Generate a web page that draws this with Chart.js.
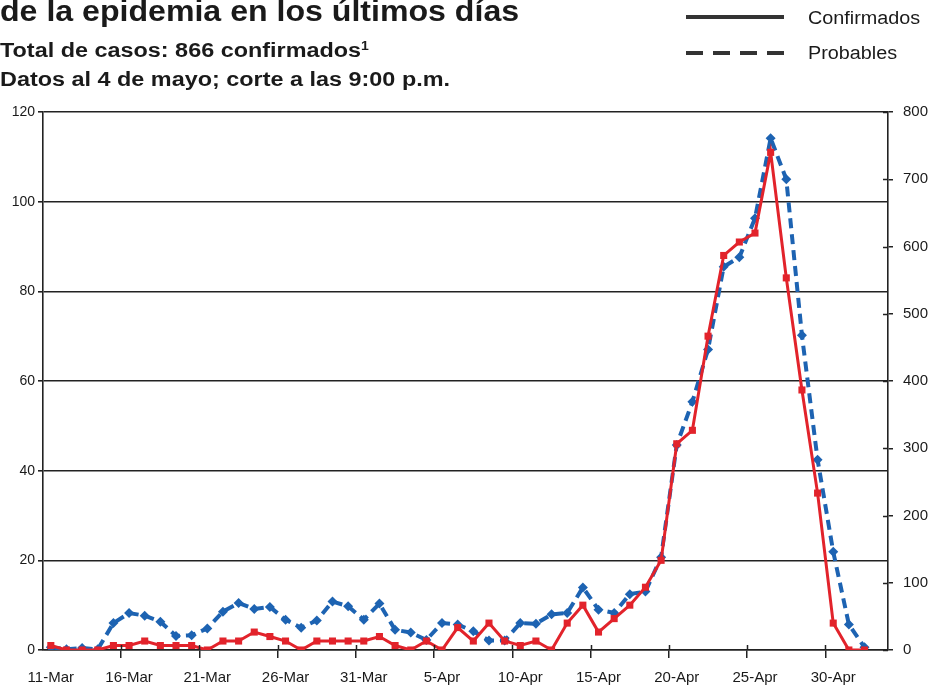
<!DOCTYPE html>
<html>
<head>
<meta charset="utf-8">
<script src="https://cdn.jsdelivr.net/npm/chart.js@4"></script>
<style>
  html, body { margin: 0; padding: 0; background: #fff; }
  #wrap { position: relative; width: 936px; height: 687px; overflow: hidden; font-family: "Liberation Sans", Arial, sans-serif; color: #1a1a1a; }
  #wrap canvas { position: absolute; left: 0; top: 0; }
  .txt { position: absolute; white-space: nowrap; transform-origin: 0 0; line-height: 1; }
  .title { left: 0; top: -4px; font-size: 30px; font-weight: bold; transform: scaleX(1.07); }
  .sub { left: 0; font-size: 20px; font-weight: bold; transform: scaleX(1.17); }
  .leg { left: 808px; font-size: 18px; transform: scaleX(1.1); }
  .solid { position: absolute; left: 686px; top: 15px; width: 98px; height: 4px; background: #333; }
  .dash { position: absolute; left: 686px; top: 51px; width: 98px; height: 4px;
          background: repeating-linear-gradient(90deg, #333 0 17px, transparent 17px 27px); }
</style>
</head>
<body>
<div id="wrap">
  <canvas id="productMainChart" width="936" height="687"></canvas>
  <div class="txt title">de la epidemia en los últimos días</div>
  <div class="txt sub" style="top:40px">Total de casos: 866 confirmados<sup style="font-size:12px;vertical-align:7px">1</sup></div>
  <div class="txt sub" style="top:69px">Datos al 4 de mayo; corte a las 9:00 p.m.</div>
  <div class="solid"></div>
  <div class="txt leg" style="top:9px">Confirmados</div>
  <div class="dash"></div>
  <div class="txt leg" style="top:44px">Probables</div>
</div>
<script>
// categories (one per day)
const labels = [
  '11-Mar','12-Mar','13-Mar','14-Mar','15-Mar','16-Mar','17-Mar','18-Mar','19-Mar','20-Mar',
  '21-Mar','22-Mar','23-Mar','24-Mar','25-Mar','26-Mar','27-Mar','28-Mar','29-Mar','30-Mar',
  '31-Mar','1-Apr','2-Apr','3-Apr','4-Apr','5-Apr','6-Apr','7-Apr','8-Apr','9-Apr',
  '10-Apr','11-Apr','12-Apr','13-Apr','14-Apr','15-Apr','16-Apr','17-Apr','18-Apr','19-Apr',
  '20-Apr','21-Apr','22-Apr','23-Apr','24-Apr','25-Apr','26-Apr','27-Apr','28-Apr','29-Apr',
  '30-Apr','1-May','2-May','3-May'
];

// confirmados (left axis)
const confirmados = [
  1,0,0,0,1,1,2,1,1,1,
  0,2,2,4,3,2,0,2,2,2,
  2,3,1,0,2,0,5,2,6,2,
  1,2,0,6,10,4,7,10,14,20,
  46,49,70,88,91,93,111,83,58,35,
  6,0,0,null
];

// probables (right axis)
const probables = [
  4,1,3,1,40,55,51,42,21,22,
  32,57,70,61,64,45,33,44,72,65,
  45,69,30,26,15,40,38,28,14,14,
  40,39,53,55,93,60,55,83,87,138,
  305,369,447,570,584,642,761,700,468,283,
  146,38,4,null
];

const leftTicks = [0, 20, 40, 60, 80, 100, 120];
const rightTicks = [0, 100, 200, 300, 400, 500, 600, 700, 800];

const ctx = document.getElementById('productMainChart').getContext('2d');

// little inward tick marks (right axis + x axis)
const innerTicks = {
  id: 'innerTicks',
  afterDraw(chart) {
    const c = chart.ctx, a = chart.chartArea;
    const y1 = chart.scales.y1;
    c.save();
    c.strokeStyle = '#222';
    c.lineWidth = 1.5;
    c.beginPath();
    y1.ticks.forEach(t => {
      const py = Math.round(y1.getPixelForValue(t.value)) + 0.5;
      c.moveTo(a.right - 5, py); c.lineTo(a.right, py);
    });
    const w = (a.right - a.left) / labels.length;
    for (let i = 5; i < labels.length; i += 5) {
      const px = Math.round(a.left + i * w) + 0.5;
      c.moveTo(px, a.bottom - 5); c.lineTo(px, a.bottom);
    }
    c.stroke();
    c.restore();
  }
};

const tickFont = { family: 'Liberation Sans, Arial', size: 14 };

const config = {
  type: 'line',
  data: {
    labels: labels,
    datasets: [{
      label: 'Confirmados',
      data: confirmados,
      yAxisID: 'y',
      borderColor: '#e2232b',
      backgroundColor: '#e2232b',
      borderWidth: 3,
      pointStyle: 'rect',
      pointRadius: 5,
      pointBorderWidth: 0,
      tension: 0
    }, {
      label: 'Probables',
      data: probables,
      yAxisID: 'y1',
      borderColor: '#1d63b2',
      backgroundColor: '#1d63b2',
      borderWidth: 4,
      borderDash: [10, 6],
      pointStyle: 'rectRot',
      pointRadius: 5,
      pointBorderWidth: 0,
      tension: 0
    }]
  },
  options: {
    responsive: false,
    animation: false,
    layout: { padding: { top: 112, left: 0, right: 0, bottom: 0 } },
    plugins: { legend: { display: false }, tooltip: { enabled: false } },
    scales: {
      x: {
        offset: true,
        afterFit: s => { s.height = 37; },
        grid: {
          offset: true,
          drawOnChartArea: false,
          tickLength: 8,
          lineWidth: 1.5,
          color: c => (c.index % 5 === 0 && c.index > 0 && c.index < labels.length) ? '#222' : 'rgba(0,0,0,0)'
        },
        border: { display: true, color: '#222', width: 1.5 },
        ticks: {
          autoSkip: false,
          maxRotation: 0,
          padding: 11,
          color: '#1a1a1a',
          font: { family: 'Liberation Sans, Arial', size: 15 },
          callback: (v, i) => i % 5 === 0 ? labels[i] : ''
        }
      },
      y: {
        position: 'left',
        min: 0, max: 120,
        afterFit: s => { s.width = 43; },
        afterBuildTicks: s => { s.ticks = leftTicks.map(v => ({ value: v })); },
        grid: { color: '#222', lineWidth: 1.6, tickLength: 5 },
        border: { display: true, color: '#222', width: 1.6 },
        ticks: { padding: 3, color: '#1a1a1a', font: tickFont }
      },
      y1: {
        position: 'right',
        min: 0, max: 800,
        afterFit: s => { s.width = 48; },
        afterBuildTicks: s => { s.ticks = rightTicks.map(v => ({ value: v })); },
        grid: { drawOnChartArea: false, color: '#222', lineWidth: 1.5, tickLength: 5 },
        border: { display: true, color: '#222', width: 1.6 },
        ticks: { padding: 10, color: '#1a1a1a', font: { family: 'Liberation Sans, Arial', size: 15 } }
      }
    }
  },
  plugins: [innerTicks]
};

const myChart = new Chart(ctx, config);
</script>
</body>
</html>
